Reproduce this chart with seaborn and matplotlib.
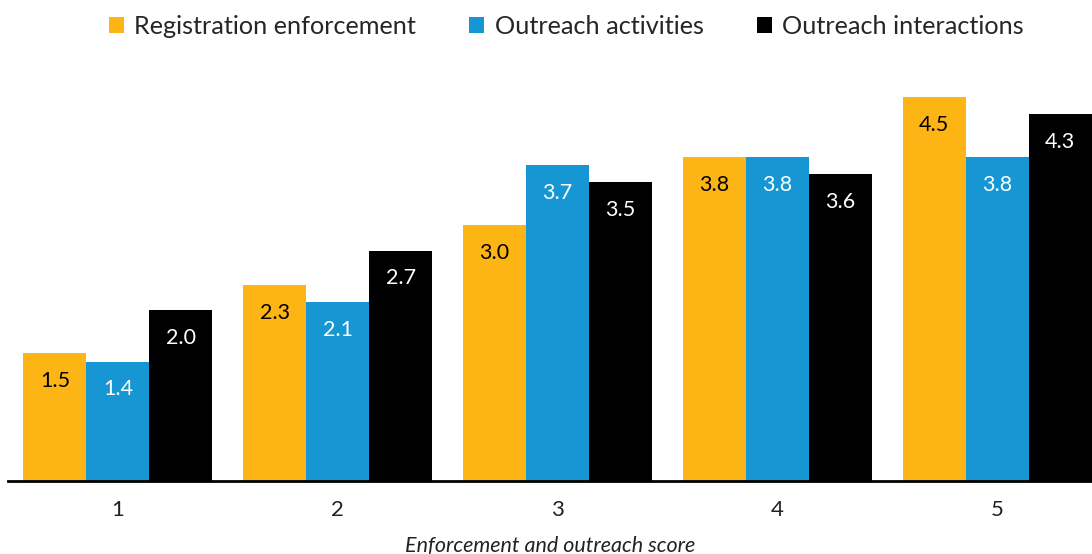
import matplotlib
matplotlib.use("Agg")
import matplotlib.pyplot as plt
import seaborn as sns
import pandas as pd

scores = ["1", "2", "3", "4", "5"]
series = ["Registration enforcement", "Outreach activities", "Outreach interactions"]
registration = [1.5, 2.3, 3.0, 3.8, 4.5]
activities = [1.4, 2.1, 3.7, 3.8, 3.8]
interactions = [2.0, 2.7, 3.5, 3.6, 4.3]
colors = ["#FDB515", "#1696D2", "#000000"]
label_colors = ["#000000", "#FFFFFF", "#FFFFFF"]

df = pd.DataFrame({
    "score": scores * 3,
    "series": [series[0]] * 5 + [series[1]] * 5 + [series[2]] * 5,
    "value": registration + activities + interactions,
})

sns.set_theme(style="white")
plt.rcParams["font.family"] = ["Lato", "DejaVu Sans"]

fig = plt.figure(figsize=(10.92, 5.54), dpi=100)
ax = fig.add_axes([8 / 1092, (554 - 481) / 554, 1084 / 1092, (481 - 70) / 554])

sns.barplot(data=df, x="score", y="value", hue="series", palette=colors,
            hue_order=series, order=scores, width=0.86, saturation=1,
            ax=ax, legend=True, linewidth=0)

for cont, lc in zip(ax.containers, label_colors):
    for rect in cont:
        h = rect.get_height()
        ax.annotate(f"{h:.1f}", (rect.get_x() + rect.get_width() / 2, h),
                    xytext=(0, -20), textcoords="offset points",
                    ha="center", va="center", fontsize=15.5, color=lc)

ax.set_xlim(-0.5, 4.432)
ax.set_ylim(0, (481 - 70) / 85.3)
ax.set_yticks([])
ax.set_ylabel("")
ax.set_xlabel("Enforcement and outreach score", fontsize=15.5, style="italic",
              color="#222222", labelpad=11)
ax.tick_params(axis="x", length=0, labelsize=16, pad=14, colors="#222222")
for s in ["top", "left", "right"]:
    ax.spines[s].set_visible(False)
ax.spines["bottom"].set_color("#000000")
ax.spines["bottom"].set_linewidth(2)

handles, labels = ax.get_legend_handles_labels()
ax.legend(handles, labels, loc="upper center", bbox_to_anchor=(0.515, 1.19),
          ncol=3, frameon=False, fontsize=18.2, handlelength=0.6, handleheight=0.6,
          handletextpad=0.4, columnspacing=2.1)

fig.savefig("out.png", dpi=100)
